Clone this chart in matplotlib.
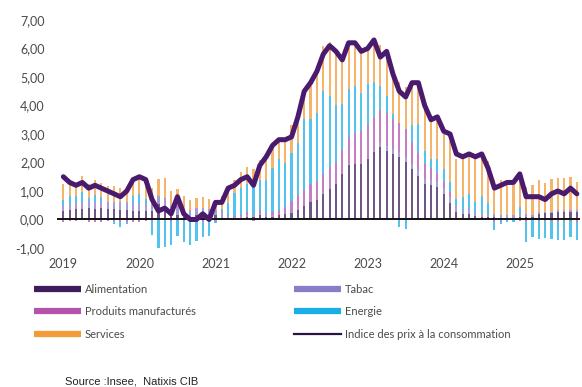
import numpy as np
import matplotlib

matplotlib.use("Agg", force=True)
import matplotlib.pyplot as plt
from matplotlib.lines import Line2D

# Contributions a l'inflation (pts), mensuel, janv. 2019 -> oct. 2025
alimentation = [
    0.30, 0.32, 0.36, 0.38, 0.40, 0.38, 0.40, 0.38, 0.36, 0.35, 0.32, 0.30,
    0.30, 0.30, 0.30, 0.55, 0.45, 0.25, 0.15, 0.10, 0.08, 0.15, 0.18, 0.15,
    0.15, 0.05, 0.02, 0.00, 0.05, 0.10, 0.10, 0.15, 0.10, 0.10, 0.15, 0.20,
    0.24, 0.34, 0.46, 0.61, 0.69, 0.91, 1.07, 1.26, 1.58, 1.92, 1.95, 1.94,
    2.13, 2.37, 2.54, 2.40, 2.29, 2.19, 2.03, 1.78, 1.54, 1.23, 1.22, 1.14,
    0.91, 0.58, 0.27, 0.21, 0.21, 0.14, 0.08, 0.08, 0.08, 0.05, 0.03, 0.03,
    0.10, 0.10, 0.10, 0.19, 0.22, 0.22, 0.26, 0.26, 0.27, 0.26,
]
tabac = [
    0.20, 0.20, 0.25, 0.25, 0.25, 0.25, 0.25, 0.25, 0.25, 0.25, 0.28, 0.28,
    0.25, 0.25, 0.26, 0.26, 0.26, 0.26, 0.26, 0.26, 0.26, 0.26, 0.22, 0.22,
    0.20, 0.20, 0.12, 0.10, 0.06, 0.06, 0.06, 0.05, 0.05, 0.05, 0.02, 0.02,
    0.01, 0.01, 0.01, 0.01, 0.01, 0.01, 0.01, 0.01, 0.01, 0.01, 0.01, 0.01,
    0.02, 0.02, 0.15, 0.18, 0.18, 0.18, 0.18, 0.18, 0.18, 0.18, 0.18, 0.18,
    0.20, 0.20, 0.14, 0.12, 0.12, 0.12, 0.12, 0.12, 0.12, 0.12, 0.12, 0.12,
    0.10, 0.08, 0.06, 0.06, 0.06, 0.06, 0.06, 0.06, 0.06, 0.06,
]
manufactures = [
    -0.08, -0.05, -0.05, -0.03, -0.08, -0.08, -0.08, -0.05, -0.05, -0.08, -0.08, -0.08,
    -0.08, -0.06, -0.05, 0.02, 0.05, -0.10, 0.10, -0.05, -0.10, -0.10, -0.08, -0.10,
    -0.05, 0.05, 0.02, 0.04, 0.04, 0.10, -0.05, 0.12, 0.05, 0.10, 0.15, 0.22,
    0.40, 0.52, 0.55, 0.62, 0.65, 0.68, 0.75, 0.75, 0.85, 0.95, 1.07, 1.15,
    1.15, 1.20, 1.15, 1.15, 1.05, 1.02, 0.95, 0.75, 0.62, 0.52, 0.42, 0.30,
    0.22, 0.20, 0.02, 0.02, 0.03, 0.00, -0.03, -0.03, -0.08, -0.05, -0.03, -0.03,
    -0.05, -0.08, -0.03, -0.05, -0.06, -0.05, -0.08, -0.06, -0.05, -0.08,
]
energie = [
    0.19, 0.31, 0.22, 0.35, 0.10, 0.22, 0.14, 0.00, -0.12, -0.19, -0.07, 0.26,
    0.36, 0.16, -0.50, -1.00, -0.98, -0.80, -0.58, -0.75, -0.78, -0.65, -0.55, -0.48,
    -0.07, 0.06, 0.42, 0.80, 0.95, 0.98, 1.05, 1.07, 1.19, 1.56, 1.80, 1.55,
    1.70, 1.80, 2.50, 2.30, 2.40, 2.90, 2.50, 2.00, 1.60, 1.70, 1.65, 1.35,
    1.45, 1.25, 0.85, 0.60, 0.18, -0.27, -0.33, 0.60, 1.02, 0.47, 0.30, 0.50,
    0.45, 0.33, 0.30, 0.43, 0.52, 0.37, 0.62, 0.39, -0.30, -0.10, -0.05, -0.05,
    0.25, -0.70, -0.60, -0.62, -0.60, -0.62, -0.65, -0.67, -0.55, -0.65,
]
services = [
    0.55, 0.55, 0.45, 0.55, 0.50, 0.55, 0.50, 0.55, 0.55, 0.50, 0.50, 0.55,
    0.60, 0.65, 0.55, 0.60, 0.70, 0.50, 0.55, 0.45, 0.35, 0.35, 0.40, 0.35,
    0.35, 0.45, 0.50, 0.45, 0.55, 0.60, 0.55, 0.70, 0.75, 0.65, 0.70, 0.75,
    0.95, 1.00, 1.05, 1.15, 1.45, 1.60, 1.90, 1.90, 1.55, 1.45, 1.40, 1.40,
    1.30, 1.40, 1.45, 1.45, 1.45, 1.45, 1.50, 1.45, 1.40, 1.45, 1.50, 1.50,
    1.45, 1.45, 1.40, 1.35, 1.45, 1.50, 1.45, 1.45, 1.20, 1.20, 1.05, 1.05,
    1.15, 0.95, 1.05, 1.15, 1.00, 1.15, 1.15, 1.15, 1.15, 1.00,
]
ipc = [
    1.5, 1.3, 1.2, 1.3, 1.1, 1.2, 1.1, 1.0, 0.9, 0.8, 1.0, 1.4,
    1.5, 1.4, 0.7, 0.3, 0.4, 0.2, 0.8, 0.2, 0.0, 0.0, 0.2, 0.0,
    0.6, 0.6, 1.1, 1.2, 1.4, 1.5, 1.2, 1.9, 2.2, 2.6, 2.8, 2.8,
    2.9, 3.6, 4.5, 4.8, 5.2, 5.8, 6.1, 5.9, 5.6, 6.2, 6.2, 5.9,
    6.0, 6.3, 5.7, 5.9, 5.1, 4.5, 4.3, 4.8, 4.8, 4.0, 3.5, 3.6,
    3.1, 3.0, 2.3, 2.2, 2.3, 2.2, 2.3, 1.8, 1.1, 1.2, 1.3, 1.3,
    1.6, 0.8, 0.8, 0.8, 0.7, 0.9, 1.0, 0.9, 1.1, 0.9,
]
years = ["2019", "2020", "2021", "2022", "2023", "2024", "2025"]

SERIES = [
    ("Alimentation", alimentation, "#3f1d5c"),
    ("Tabac", tabac, "#8a7cc8"),
    ("Produits manufacturés", manufactures, "#b452ac"),
    ("Energie", energie, "#1aaee6"),
    ("Services", services, "#f29b38"),
]
LINE_COLOR = "#4a1a6e"
TEXT_COLOR = "#4a4a4a"

plt.rcParams["font.family"] = ["Lato", "DejaVu Sans"]

fig = plt.figure(figsize=(5.82, 3.87), dpi=100, facecolor="white")
ax = fig.add_axes([57 / 582, 1 - 248 / 387, 523 / 582, 228 / 387])

x = np.arange(len(ipc))
pos_bottom = np.zeros(len(x))
neg_bottom = np.zeros(len(x))
for label, values, color in SERIES:
    v = np.array(values)
    bottom = np.where(v >= 0, pos_bottom, neg_bottom)
    ax.bar(x, v, bottom=bottom, width=0.34, color=color, alpha=0.75, linewidth=0)
    pos_bottom += np.clip(v, 0, None)
    neg_bottom += np.clip(v, None, 0)

ax.axhline(0, color="#111111", linewidth=1.4, zorder=3)
ax.plot(x, ipc, color=LINE_COLOR, linewidth=3.6, solid_joinstyle="round",
        solid_capstyle="round", zorder=4)

ax.set_xlim(-1.0, 81.5)
ax.set_ylim(-1, 7)
ax.set_yticks(range(-1, 8))
ax.set_yticklabels([f"{v:.2f}".replace(".", ",") for v in range(-1, 8)])
ax.set_xticks(range(0, 12 * len(years), 12))
ax.set_xticklabels(years)
ax.tick_params(length=0, labelsize=9, colors=TEXT_COLOR)
ax.tick_params(axis="y", pad=9)
ax.tick_params(axis="x", pad=7)
for side in ["top", "right", "left", "bottom"]:
    ax.spines[side].set_visible(False)

handles = [Line2D([], [], color=c, linewidth=4.5, solid_capstyle="butt") for _, _, c in SERIES]
handles.append(Line2D([], [], color="#2a1540", linewidth=1.6))
labels = [s[0] for s in SERIES] + ["Indice des prix à la consommation"]

left_idx = [0, 2, 4]
right_idx = [1, 3, 5]
for idx, xpos in [(left_idx, 28 / 582), (right_idx, 288 / 582)]:
    leg = fig.legend([handles[i] for i in idx], [labels[i] for i in idx],
                     loc="upper left", bbox_to_anchor=(xpos, 1 - 278 / 387),
                     frameon=False, fontsize=8, handlelength=4.3,
                     handletextpad=0.3, labelspacing=1.05, borderpad=0)
    for t in leg.get_texts():
        t.set_color(TEXT_COLOR)

fig.text(65 / 582, 1 - 381 / 387, "Source :Insee,  Natixis CIB", fontsize=8,
         color="#222222", family=["Liberation Sans", "DejaVu Sans"], va="center")

fig.savefig("out.png", dpi=100, facecolor="white")
plt.close(fig)
